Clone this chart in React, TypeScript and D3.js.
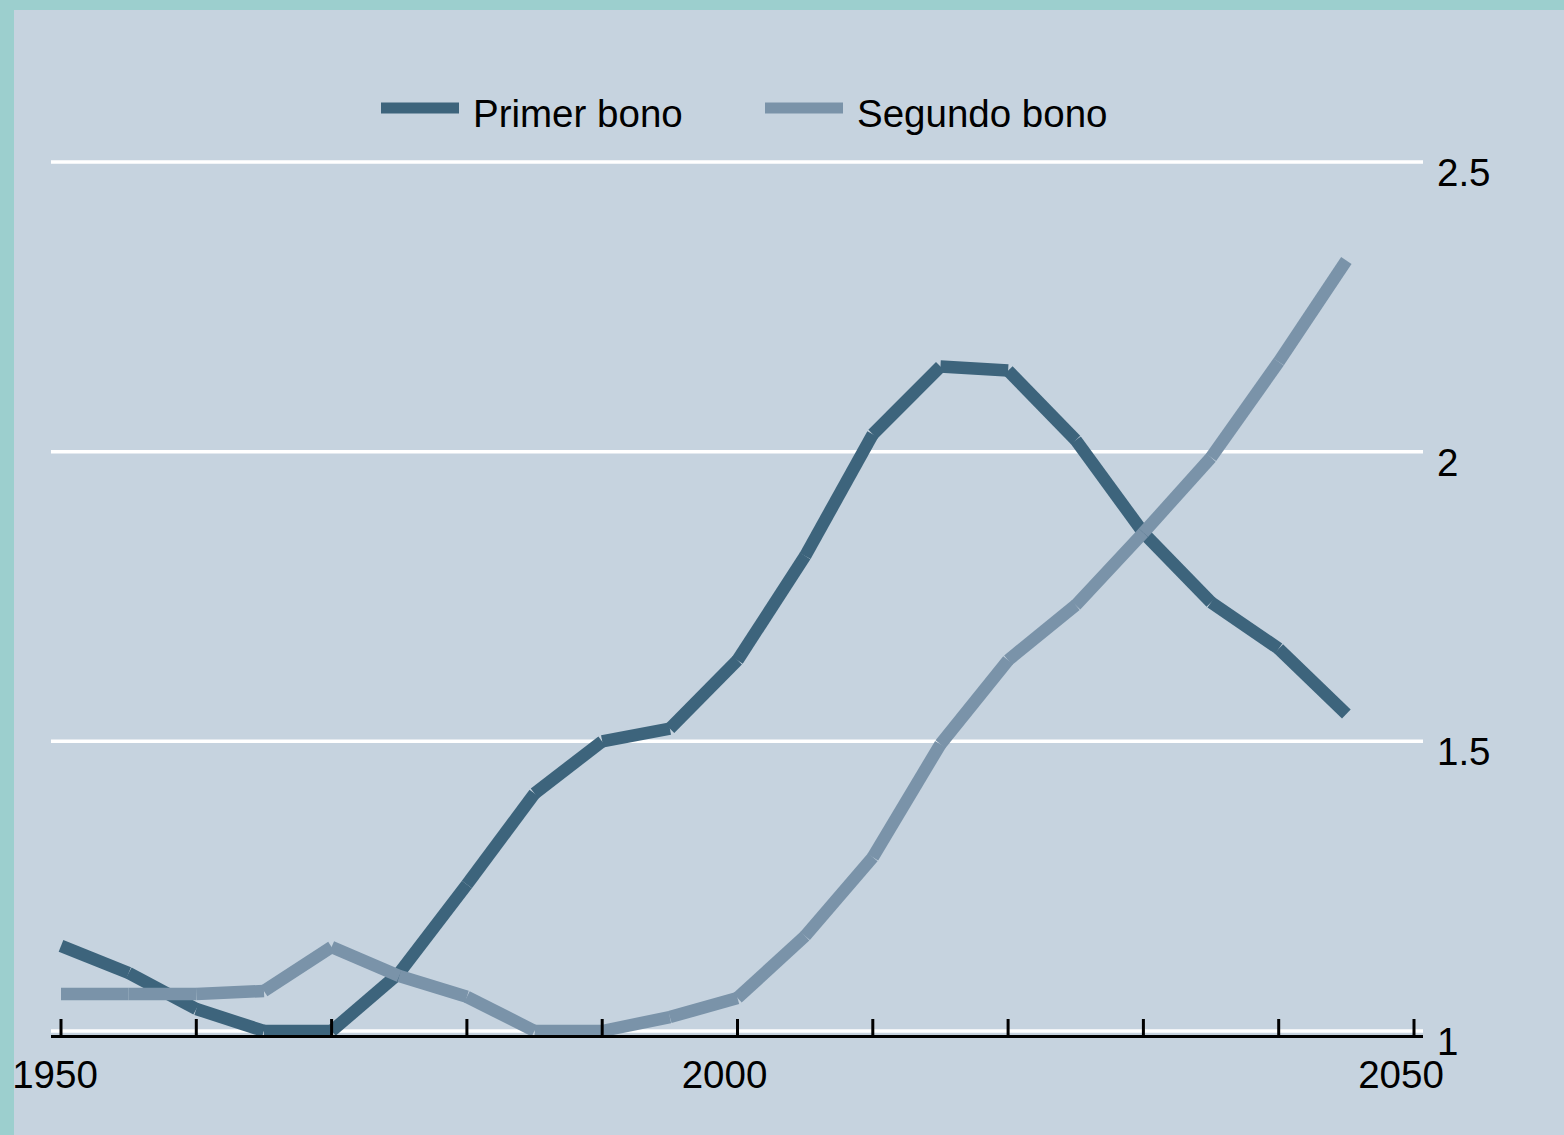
import React from "react";
import * as d3 from "d3";

const years = [1950, 1955, 1960, 1965, 1970, 1975, 1980, 1985, 1990, 1995, 2000, 2005, 2010, 2015, 2020, 2025, 2030, 2035, 2040, 2045];
const primerBono = [1.147, 1.1, 1.038, 1.0, 1.0, 1.1, 1.253, 1.41, 1.5, 1.522, 1.64, 1.82, 2.03, 2.147, 2.14, 2.02, 1.86, 1.74, 1.66, 1.547];
const segundoBono = [1.064, 1.064, 1.064, 1.069, 1.145, 1.095, 1.059, 1.0, 1.0, 1.024, 1.057, 1.164, 1.3, 1.495, 1.64, 1.735, 1.86, 1.99, 2.155, 2.33];
const yTicks = [1, 1.5, 2, 2.5];
const yTickLabels = ["1", "1.5", "2", "2.5"];
const xTicks = [1950, 1960, 1970, 1980, 1990, 2000, 2010, 2020, 2030, 2040, 2050];
const xLabels = [1950, 2000, 2050];
const seriesNames = ["Primer bono", "Segundo bono"];

const W = 1564;
const H = 1135;
const DARK = "#3d647c";
const LIGHT = "#7a93a9";
const BG = "#c6d3df";
const TEAL = "#9ccfce";
const FONT = "'Liberation Sans', Arial, Helvetica, sans-serif";

export default function App() {
  const x = d3.scaleLinear().domain([1950, 2050]).range([61, 1414]);
  const y = d3.scaleLinear().domain([1, 2.5]).range([1031, 162]);

  const segs = (vals: number[]) =>
    vals.slice(1).map((v, i) => ({
      x1: x(years[i]),
      y1: y(vals[i]),
      x2: x(years[i + 1]),
      y2: y(v),
    }));

  const series = [
    { name: seriesNames[0], vals: primerBono, color: DARK },
    { name: seriesNames[1], vals: segundoBono, color: LIGHT },
  ];

  const legendX = [381, 765];

  return (
    <svg width={W} height={H} style={{ position: "absolute", left: 0, top: 0 }} fontFamily={FONT}>
      <rect x={0} y={0} width={W} height={H} fill={TEAL} />
      <rect x={14} y={10} width={W - 14} height={H - 10} fill={BG} />

      {yTicks.map((t) => (
        <line key={"g" + t} x1={51} x2={1423} y1={y(t)} y2={y(t)} stroke="#ffffff" strokeWidth={3.5} />
      ))}

      {yTicks.map((t, i) => (
        <text key={"yl" + t} x={1437} y={y(t) + 24} fontSize={38.5} fill="#000">
          {yTickLabels[i]}
        </text>
      ))}

      {series.map((s) => (
        <g key={s.name}>
          {segs(s.vals).map((d, i) => (
            <line key={i} x1={d.x1} y1={d.y1} x2={d.x2} y2={d.y2} stroke={s.color} strokeWidth={12.5} strokeLinecap="butt" />
          ))}
        </g>
      ))}

      <line x1={51} x2={1423} y1={1036.5} y2={1036.5} stroke="#000" strokeWidth={3} />
      {xTicks.map((t) => (
        <line key={"t" + t} x1={x(t)} x2={x(t)} y1={1019} y2={1037} stroke="#000" strokeWidth={3} />
      ))}
      {xLabels.map((t) => (
        <text key={"xl" + t} x={Math.max(x(t) - 13, 55)} y={1088} fontSize={38.5} textAnchor="middle" fill="#000">
          {t}
        </text>
      ))}

      {series.map((s, i) => (
        <g key={"lg" + s.name}>
          <line x1={legendX[i]} x2={legendX[i] + 78} y1={108} y2={108} stroke={s.color} strokeWidth={11} />
          <text x={legendX[i] + 92} y={127} fontSize={38.5} fill="#000">
            {s.name}
          </text>
        </g>
      ))}
    </svg>
  );
}
